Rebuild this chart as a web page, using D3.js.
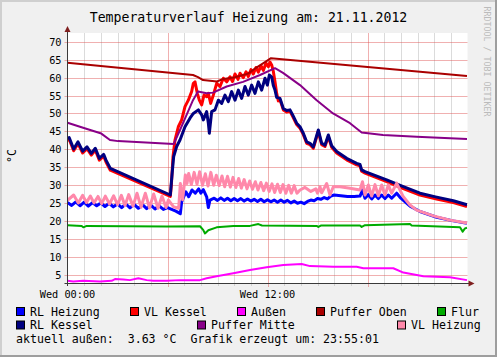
<!DOCTYPE html>
<html><head><meta charset="utf-8">
<script src="https://cdn.jsdelivr.net/npm/d3@7"></script>
<style>
html,body{margin:0;padding:0;background:#F0F0F0;}
svg{display:block;}
text{font-family:"DejaVu Sans Mono",monospace;}
</style></head><body>
<svg id="c" width="497" height="357"></svg>
<script>
// ---------------- data ----------------
const title = "Temperaturverlauf Heizung am: 21.11.2012";
const unitLabel = "°C";
const yTicks = [5,10,15,20,25,30,35,40,45,50,55,60,65,70];
const xLabelHours = [0, 12];
const xLabels = ["Wed 00:00", "Wed 12:00"];
const seriesNames = ["RL Heizung","VL Kessel","Außen","Puffer Oben","Flur","RL Kessel","Puffer Mitte","VL Heizung"];
const seriesColors = ["#0000FF","#FF0000","#FF00FF","#AA0000","#00AA00","#000080","#880088","#FF88AA"];
const footer = "aktuell außen:  3.63 °C  Grafik erzeugt um: 23:55:01";
const watermark = "RRDTOOL / TOBI OETIKER";

// [hour, °C]
const rlHeizung = [[0,25.2],[0.25,24.4],[0.5,25.4],[0.75,24.3],[1.0,25.3],[1.25,24.2],[1.5,25.2],[1.75,24.3],[2.0,25.1],[2.25,24.1],[2.5,25.0],[2.75,24.0],[3.0,24.8],[3.25,23.8],[3.5,24.8],[3.75,23.7],[4.0,24.7],[4.25,23.6],[4.5,24.6],[4.75,23.5],[5.0,24.5],[5.25,23.4],[5.5,24.3],[5.75,23.3],[6.0,23.8],[6.25,23.3],[6.5,22.8],[6.77,22.1],[6.85,25.4],[7.1,28.2],[7.27,26.8],[7.47,28.7],[7.67,27.8],[7.87,29.0],[8.0,27.8],[8.15,28.8],[8.35,26.8],[8.45,23.8],[8.55,25.9],[8.8,26.4],[9.0,25.8],[9.2,26.5],[9.4,25.8],[9.6,26.4],[9.8,25.7],[10.0,26.3],[10.2,25.7],[10.4,26.3],[10.6,25.6],[10.8,26.2],[11.0,25.6],[11.2,26.1],[11.4,25.5],[11.6,26.1],[11.8,25.4],[12.0,26.0],[12.2,25.4],[12.4,25.9],[12.6,25.3],[12.8,25.9],[13.0,25.3],[13.2,25.8],[13.4,25.1],[13.6,25.6],[13.8,25.0],[14.0,25.3],[14.2,24.9],[14.4,25.5],[14.6,25.9],[14.8,25.7],[15.0,26.3],[15.2,26.1],[15.4,26.6],[15.6,26.2],[15.8,27.0],[16.0,27.3],[16.4,27.1],[16.8,26.9],[17.2,26.9],[17.55,27.0],[17.7,28.7],[17.85,26.4],[18.05,27.4],[18.25,26.2],[18.45,27.3],[18.65,26.3],[18.85,27.3],[19.05,26.3],[19.25,27.3],[19.45,26.4],[19.75,27.8],[20.0,26.4],[20.55,24.2],[21.15,22.7],[22.15,21.1],[23.15,20.1],[23.97,19.4]];

const vlKessel = [[0,42.6],[0.1,42.8],[0.37,39.6],[0.63,41.6],[0.91,39.0],[1.17,40.2],[1.43,38.4],[1.67,39.8],[1.91,37.0],[2.17,38.1],[2.31,36.5],[2.57,34.2],[6.17,26.9],[6.23,30.0],[6.33,38.0],[6.45,42.6],[6.65,46.3],[6.85,48.2],[7.05,51.9],[7.25,53.7],[7.45,56.1],[7.55,58.4],[7.65,58.8],[7.79,55.6],[7.91,53.7],[8.05,52.4],[8.19,55.1],[8.35,54.7],[8.45,55.6],[8.59,52.8],[8.75,55.1],[8.95,58.4],[9.15,57.5],[9.35,59.8],[9.55,58.8],[9.75,60.2],[9.9,58.9],[10.05,61.0],[10.23,59.5],[10.35,61.2],[10.55,60.0],[10.71,61.6],[10.85,60.3],[11.01,62.2],[11.15,61.0],[11.31,62.8],[11.45,61.5],[11.61,63.3],[11.75,62.0],[11.91,64.0],[12.05,63.0],[12.15,64.3],[12.25,63.5],[12.35,61.7],[12.45,58.8],[12.55,55.6],[12.65,53.5],[12.75,53.8],[12.95,51.0],[13.15,50.4],[13.35,50.6],[13.51,49.2],[13.75,46.9],[13.95,45.9],[14.15,44.1],[14.35,41.7],[14.55,41.3],[14.75,40.3],[15.05,45.0],[15.25,41.3],[15.45,40.8],[15.65,43.6],[15.85,40.6],[16.15,39.0],[16.75,37.1],[17.35,35.7],[17.55,35.4],[17.65,33.9],[17.85,33.4],[19.15,31.0],[20.15,29.1],[21.15,27.3],[22.15,26.2],[23.15,25.2],[23.97,24.1]];

const aussen = [[0,3.4],[0.35,3.2],[0.95,3.4],[1.95,3.2],[2.65,3.4],[2.85,3.9],[3.35,3.8],[3.75,3.6],[4.25,4.1],[4.75,3.6],[5.15,3.4],[5.95,3.4],[6.75,3.6],[7.95,3.6],[8.35,4.1],[8.95,4.7],[9.95,5.5],[10.95,6.4],[11.95,7.2],[12.95,7.8],[14.05,8.1],[14.55,7.5],[15.95,7.3],[17.35,7.3],[17.75,6.9],[19.55,6.9],[20.15,5.7],[21.35,4.7],[22.95,4.4],[23.97,3.6]];

const pufferOben = [[0,64.1],[7.53,60.7],[7.83,60.1],[8.13,59.3],[8.97,58.9],[9.27,59.5],[10.05,60.1],[10.83,61.1],[11.31,62.7],[11.85,64.3],[12.21,65.4],[23.97,60.4]];

const flur = [[0,18.9],[0.85,18.7],[0.95,18.3],[1.15,18.7],[5.95,18.5],[7.95,18.6],[8.15,17.5],[8.25,16.6],[8.45,17.5],[8.95,18.3],[9.95,18.7],[10.95,18.7],[11.45,19.2],[11.67,18.8],[14.95,18.7],[15.05,18.4],[15.2,18.8],[17.55,18.8],[17.65,18.4],[17.85,18.9],[20.55,19.2],[20.65,18.8],[23.55,18.3],[23.71,17.1],[23.85,18.0],[23.97,18.2]];

const rlKessel = [[0,43.1],[0.1,43.3],[0.37,40.1],[0.63,42.1],[0.91,39.5],[1.17,40.7],[1.43,38.9],[1.67,40.3],[1.91,37.5],[2.17,38.6],[2.31,37.0],[2.57,34.7],[6.17,27.3],[6.27,32.9],[6.37,38.0],[6.55,40.8],[6.75,42.6],[7.05,46.3],[7.35,48.7],[7.55,50.0],[7.85,51.0],[8.05,49.6],[8.15,48.2],[8.35,50.5],[8.45,47.3],[8.51,44.5],[8.65,50.5],[8.85,51.0],[9.05,53.7],[9.25,52.8],[9.45,55.1],[9.65,53.3],[9.85,56.1],[10.05,53.7],[10.25,56.5],[10.45,54.2],[10.65,57.5],[10.85,55.1],[11.05,57.9],[11.25,55.6],[11.45,58.8],[11.65,56.5],[11.85,59.8],[11.99,57.9],[12.11,60.7],[12.25,60.2],[12.35,57.8],[12.45,56.5],[12.55,54.5],[12.75,54.2],[12.95,51.4],[13.15,50.8],[13.35,51.0],[13.51,49.6],[13.75,47.3],[13.95,46.3],[14.15,44.5],[14.35,42.1],[14.55,41.7],[14.75,40.7],[15.05,45.4],[15.25,41.7],[15.45,41.2],[15.65,44.0],[15.85,41.0],[16.15,39.4],[16.75,37.5],[17.35,36.1],[17.55,35.8],[17.65,34.3],[17.85,33.8],[19.15,31.5],[20.15,29.6],[21.15,27.8],[22.15,26.7],[23.15,25.7],[23.97,24.6]];

const pufferMitte = [[0,47.4],[1.03,45.9],[2.03,44.4],[2.55,42.6],[3.03,42.3],[6.37,41.5],[6.75,45.4],[7.23,50.5],[7.53,53.7],[7.83,56.1],[8.35,55.6],[8.73,55.8],[9.55,57.5],[10.53,58.8],[11.55,60.7],[12.45,62.6],[12.93,61.3],[13.95,57.9],[14.95,53.7],[15.93,50.0],[16.95,47.3],[17.65,44.7],[18.93,44.0],[20.95,43.5],[23.97,42.9]];

const vlHeizung = [[0,25.8],[0.37,27.3],[0.65,25.1],[0.91,27.2],[1.14,25.2],[1.37,27.0],[1.59,25.1],[1.83,26.9],[2.05,24.9],[2.27,27.0],[2.52,24.8],[2.77,27.1],[3.0,24.6],[3.23,27.2],[3.45,24.4],[3.67,27.4],[3.93,24.2],[4.17,27.8],[4.41,23.9],[4.67,27.8],[4.92,23.7],[5.17,27.6],[5.43,23.6],[5.67,27.0],[5.91,23.8],[6.05,25.9],[6.37,24.0],[6.67,23.6],[6.77,30.5],[6.91,26.0],[7.07,32.9],[7.17,30.5],[7.27,33.3],[7.43,30.2],[7.6,33.6],[7.77,30.3],[7.93,33.8],[8.1,30.0],[8.27,33.2],[8.43,29.8],[8.6,33.6],[8.77,30.0],[8.93,32.8],[9.1,29.9],[9.27,32.6],[9.43,29.6],[9.6,32.5],[9.77,29.5],[9.93,32.2],[10.1,29.4],[10.27,31.9],[10.43,29.2],[10.6,31.6],[10.77,29.0],[10.93,31.2],[11.1,28.9],[11.27,31.0],[11.43,28.7],[11.6,30.8],[11.77,28.5],[11.93,30.6],[12.1,28.3],[12.27,30.4],[12.43,28.0],[12.6,30.3],[12.77,28.0],[12.93,30.2],[13.1,27.8],[13.27,30.0],[13.43,27.8],[13.6,29.9],[13.77,27.8],[13.95,28.7],[14.25,29.4],[14.6,28.3],[14.9,29.0],[15.0,27.8],[15.15,29.6],[15.25,27.9],[15.55,30.5],[15.75,27.3],[15.95,29.6],[16.35,29.6],[16.95,29.2],[17.55,28.7],[17.7,31.0],[17.85,27.3],[18.05,30.1],[18.25,27.0],[18.45,30.2],[18.65,27.1],[18.85,30.1],[19.05,27.3],[19.25,30.1],[19.45,27.8],[19.75,30.6],[20.15,26.8],[20.55,24.5],[20.95,23.1],[21.95,21.5],[22.95,20.3],[23.97,19.5]];

const seriesData = [rlHeizung, vlKessel, aussen, pufferOben, flur, rlKessel, pufferMitte, vlHeizung];
const seriesWidths = [3, 3, 2, 2, 2, 3, 2, 3];

// ---------------- drawing ----------------
const W = 497, H = 357;
const L = 67.5, R = 467.5, T = 33, B = 283;
const svg = d3.select("#c");
const x = d3.scaleLinear().domain([0, 24]).range([L, R]);
const y = d3.scaleLinear().domain([2.8, 72.4]).range([B, T]);

// background and 3D frame
svg.append("rect").attr("x",0).attr("y",0).attr("width",W).attr("height",H).attr("fill","#F0F0F0");
svg.append("rect").attr("x",0).attr("y",0).attr("width",W).attr("height",2).attr("fill","#CFCFCF");
svg.append("rect").attr("x",0).attr("y",0).attr("width",2).attr("height",H).attr("fill","#CFCFCF");
svg.append("rect").attr("x",0).attr("y",H-2).attr("width",W).attr("height",2).attr("fill","#9E9E9E");
svg.append("rect").attr("x",W-2).attr("y",0).attr("width",2).attr("height",H).attr("fill","#9E9E9E");

// canvas
svg.append("rect").attr("x",L-0.5).attr("y",T).attr("width",R-L+0.5).attr("height",B-T).attr("fill","#FFFFFF");

// vertical grid (hourly minor, 6h major)
const hours = d3.range(1, 24);
svg.append("g").selectAll("line").data(hours).join("line")
  .attr("x1", d => Math.round(x(d)) + 0.5).attr("x2", d => Math.round(x(d)) + 0.5)
  .attr("y1", T).attr("y2", d => d % 6 === 0 ? B + 4 : B + 3)
  .attr("stroke", d => d % 6 === 0 ? "rgba(222,80,80,0.45)" : "rgba(143,143,143,0.32)")
  .attr("stroke-width", 1);

// horizontal grid
svg.append("g").selectAll("line").data(yTicks).join("line")
  .attr("x1", L - 3).attr("x2", R)
  .attr("y1", d => Math.round(y(d)) + 0.5).attr("y2", d => Math.round(y(d)) + 0.5)
  .attr("stroke", "rgba(222,80,80,0.45)").attr("stroke-width", 1);

// y labels
svg.append("g").selectAll("text").data(yTicks).join("text")
  .attr("x", 61.5).attr("y", d => Math.round(y(d)) + 0.5 + 3.8)
  .attr("text-anchor", "end").attr("font-size", "10.25px").attr("fill", "#000")
  .text(d => d);

// x labels
svg.append("g").selectAll("text").data(xLabelHours).join("text")
  .attr("x", d => x(d)).attr("y", 298)
  .attr("text-anchor", "middle").attr("font-size", "10.25px").attr("fill", "#000")
  .text((d, i) => xLabels[i]);

// series
const clip = svg.append("clipPath").attr("id", "clp").append("rect")
  .attr("x", L).attr("y", T).attr("width", R - L).attr("height", B - T);
const line = d3.line().x(d => x(d[0])).y(d => y(d[1]));
const gLines = svg.append("g").attr("clip-path", "url(#clp)");
seriesData.forEach((s, i) => {
  gLines.append("path").attr("d", line(s)).attr("fill", "none")
    .attr("stroke", seriesColors[i]).attr("stroke-width", seriesWidths[i])
    .attr("stroke-linejoin", "round").attr("stroke-linecap", "butt");
});

// axes and arrows
svg.append("line").attr("x1", L).attr("x2", L).attr("y1", B + 3).attr("y2", T - 3)
  .attr("stroke", "#3a3a3a").attr("stroke-width", 1);
svg.append("line").attr("x1", L - 3).attr("x2", R + 2).attr("y1", B + 0.5).attr("y2", B + 0.5)
  .attr("stroke", "#3a3a3a").attr("stroke-width", 1);
svg.append("path").attr("d", `M${L-3},${T-1} L${L+3},${T-1} L${L},${T-7} Z`).attr("fill", "#7F1F1F");
svg.append("path").attr("d", `M${R+1},${B-2.5} L${R+1},${B+3.5} L${R+7},${B+0.5} Z`).attr("fill", "#7F1F1F");

// title
svg.append("text").attr("x", W / 2).attr("y", 21.5).attr("text-anchor", "middle")
  .attr("font-size", "13.2px").attr("fill", "#000").text(title);

// unit
svg.append("text").attr("transform", "translate(15.8,156) rotate(-90)")
  .attr("text-anchor", "middle").attr("font-size", "11.6px").attr("fill", "#000").text(unitLabel);

// watermark
svg.append("text").attr("transform", "translate(484.2,6.5) rotate(90)")
  .attr("text-anchor", "start").attr("font-size", "8.3px").attr("fill", "#BBBBBB").text(watermark);

// legend
const legendPos = [[16,0],[130,0],[237,0],[316,0],[437,0],[16,1],[197,1],[397,1]];
const rowBase = [315.5, 329.2];
const rowBox = [307.5, 321];
const gl = svg.append("g");
seriesNames.forEach((n, i) => {
  const [bx, r] = legendPos[i];
  gl.append("rect").attr("x", bx + 0.5).attr("y", rowBox[r]).attr("width", 8).attr("height", 8)
    .attr("fill", seriesColors[i]).attr("stroke", "#000").attr("stroke-width", 1);
  gl.append("text").attr("x", bx + 14).attr("y", rowBase[r]).attr("font-size", "11.6px")
    .attr("fill", "#000").text(n);
});
svg.append("text").attr("x", 16).attr("y", 343.3).attr("font-size", "11.6px")
  .attr("fill", "#000").style("white-space", "pre").attr("xml:space", "preserve").text(footer);
</script>
</body></html>
